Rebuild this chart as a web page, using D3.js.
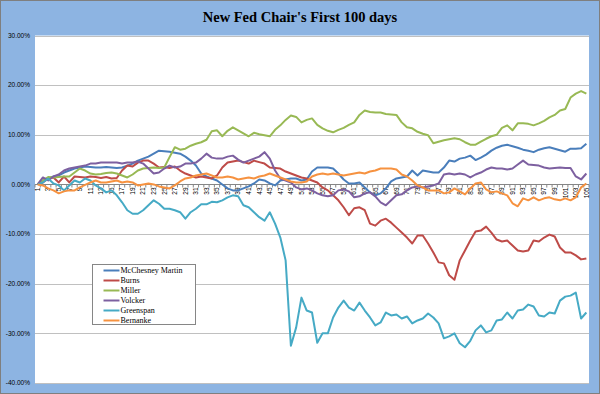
<!DOCTYPE html>
<html>
<head>
<meta charset="utf-8">
<script src="https://d3js.org/d3.v7.min.js"></script>
<style>
  body { margin: 0; background: #fff; }
  svg { display: block; }
  .title { font-family: 'Liberation Serif', 'Times New Roman', serif; font-weight: bold; font-size: 14.5px; fill: #000; }
  .y-label { font-family: 'Liberation Sans', Arial, sans-serif; font-size: 6.5px; fill: #000; }
  .x-axis text { font-family: 'Liberation Sans', Arial, sans-serif; font-size: 6.5px; fill: #000; }
  .legend text { font-family: 'Liberation Serif', 'Times New Roman', serif; font-size: 8px; fill: #000; }
</style>
</head>
<body>
<div id="chart"></div>
<script>
const WIDTH = 600
const HEIGHT = 394
const PLOT = { left: 35, right: 589, top: 35.5, bottom: 383 }

const TITLE = "New Fed Chair's First 100 days"
const SERIES = ['McChesney Martin', 'Burns', 'Miller', 'Volcker', 'Greenspan', 'Bernanke']
const COLORS = ['#4a7ebb', '#be4b48', '#98b954', '#7d60a0', '#46aac5', '#f69240']

// trading days since taking office
const DAYS = d3.range(1, 106)
const DAY_LABELS = DAYS.filter((d) => d % 2 === 1)
const Y_TICKS = [30, 20, 10, 0, -10, -20, -30, -40]

// cumulative % change
const mcchesney_martin = [0,0.8,1.2,1.6,1.8,2.4,2.8,3.2,3.4,3.6, 3.5,3.4,3.4,3.5,3.4,3.3,3.4,3.8,4.2,4.8,
  5.2,5.6,6.2,6.8,6.7,6.6,6.4,6.2,5.6,4.8, 3.8,2.2,1.6,1.2,0.8,0,-0.8,-1.2,-1.2,-0.8,
  -0.4,0.2,1.0,0.8,0.2,-0.2,0.8,1.0,1.2,1.2, 0.8,1.0,2.6,3.4,3.4,3.4,3.2,2.2,1.0,0.2,
  0.2,0.4,-0.6,-1.6,-2.2,-1.8,-0.8,0.6,1.2,1.4, 1.6,2.8,1.8,2.8,2.6,2.4,2.4,3.4,4.8,4.6,
  5.2,5.4,5.8,4.9,5.4,6.0,6.8,7.4,7.8,8.0, 7.7,7.4,7.0,6.8,6.5,7.0,7.3,7.5,7.2,6.9,
  6.6,7.2,7.2,7.3,8.2]
const burns = [0,0.4,1.2,1.4,0.4,1.6,0.4,1.6,1.5,1.4, 1.6,1.5,1.3,1.5,1.2,1.3,2.8,3.8,3.6,4.4,
  4.8,4.8,4.2,3.4,3.5,3.3,3.6,2.8,2.2,1.8, 1.4,1.6,1.4,1.2,1.8,3.4,4.4,4.6,4.8,4.5,
  4.2,4.8,4.5,4.2,3.4,3.3,3.2,2.6,2.2,1.8, 1.4,1.2,0.8,0.4,-0.6,-1.2,-2.2,-3.2,-4.6,-6.2,
  -4.8,-4.6,-5.2,-7.9,-8.3,-7.3,-6.9,-7.7,-8.7,-9.7, -10.7,-11.9,-10.3,-10.3,-11.9,-13.7,-15.7,-15.9,-18.3,-19.2,
  -15.3,-13.3,-11.3,-9.5,-9.3,-8.5,-9.7,-11.1,-11.5,-11.3, -12.3,-13.3,-13.5,-13.3,-11.3,-11.5,-10.7,-10.1,-10.5,-12.7,
  -13.7,-13.7,-14.3,-15.1,-14.9]
const miller = [0,0.8,1.5,1.4,1.5,1.6,1.6,2.4,3.2,2.8, 2.2,2.0,2.1,2.3,2.4,2.2,1.8,1.4,2.0,2.8,
  3.2,3.3,3.4,3.3,3.4,5.5,7.5,7.0,7.2,7.8, 8.2,8.5,9.0,10.7,10.9,9.7,10.8,11.5,10.9,10.3,
  9.7,10.4,10.1,9.9,9.7,11.0,11.9,13.0,13.9,13.6, 12.5,13.0,13.3,12.0,11.3,10.8,10.5,11.0,11.4,12.0,
  12.5,14.0,14.9,14.6,14.5,14.5,14.2,14.1,14.0,12.5, 11.5,11.3,10.6,10.2,9.9,8.3,8.6,8.9,9.1,9.3,
  9.1,8.5,8.0,8.0,8.6,9.2,9.7,10.0,11.4,11.9, 10.9,12.3,12.3,12.2,11.9,12.3,12.8,13.5,14.0,14.9,
  15.2,17.5,18.3,18.8,18.3]
const volcker = [0,1.4,0.8,1.6,2.0,2.8,3.2,3.4,3.6,3.8, 4.2,4.2,4.4,4.4,4.4,4.4,4.2,4.4,4.4,4.6,
  4.2,3.2,2.2,2.4,3.2,3.8,3.4,3.6,4.2,4.2, 4.4,5.2,6.2,5.4,5.2,5.2,5.6,5.8,5.0,4.4,
  4.8,5.2,5.6,6.5,5.2,2.8,1.2,0.8,0.4,-0.6, -1.0,-0.8,-1.2,-1.8,-2.2,-2.4,-2.2,-1.2,-1.0,-1.4,
  -2.6,-2.4,-1.8,-1.6,-2.4,-3.6,-4.2,-3.2,-2.2,-2.0, -1.2,-0.6,-0.4,-0.6,-0.4,-0.2,0.2,2.0,2.2,2.0,
  2.2,2.0,1.4,2.0,2.4,3.0,3.4,3.2,3.2,3.0, 3.2,4.0,4.8,4.0,3.9,3.8,3.4,3.2,3.3,3.4,
  3.3,3.3,1.6,1.0,2.2]
const greenspan = [0,0.4,1.2,0.2,-0.2,-1.2,-0.2,0.8,0.4,1.2, 0.8,-0.2,-0.8,-1.6,-1.2,-2.2,-3.6,-5.2,-5.9,-5.9,
  -5.2,-4.2,-3.2,-3.9,-4.9,-4.9,-5.2,-5.6,-6.9,-5.6, -4.9,-4.0,-4.0,-3.5,-3.6,-3.2,-2.6,-2.2,-2.4,-4.2,
  -4.6,-5.6,-6.6,-7.3,-5.6,-7.9,-10.7,-15.3,-32.5,-28.8, -22.8,-25.4,-25.8,-31.9,-30.0,-30.0,-26.8,-24.8,-23.4,-24.8,
  -25.4,-23.8,-25.4,-26.8,-28.4,-27.8,-25.8,-26.4,-26.2,-27.0, -26.6,-28.0,-27.4,-27.0,-26.0,-26.8,-28.0,-31.0,-30.6,-30.0,
  -32.0,-32.8,-31.5,-29.4,-28.4,-29.8,-29.4,-27.4,-27.2,-25.8, -27.0,-25.4,-25.2,-24.2,-24.6,-26.4,-26.6,-25.8,-26.0,-23.4,
  -22.6,-22.4,-21.8,-27.0,-25.8]
const bernanke = [0,-0.2,-0.8,-1.2,-1.8,-1.4,-1.2,-1.2,-0.6,-0.1, 0.4,0.8,0.4,0.4,0.6,0.8,0.4,0.6,0.4,-0.2,
  0.0,0.2,0.0,-0.4,-0.6,-0.8,-0.2,0.6,1.2,1.4, 1.8,2.0,2.2,1.8,1.4,1.4,1.6,1.4,1.0,1.2,
  1.4,1.2,1.6,1.8,2.2,1.8,1.4,1.0,0.6,0.4, 0.4,0.6,1.6,2.0,2.2,2.0,2.2,2.0,1.8,2.0,
  2.2,2.4,2.2,2.6,2.8,3.2,3.2,3.2,3.0,2.0, 1.6,0.8,-0.2,-0.6,-1.2,-1.2,-1.2,-1.8,-1.6,-0.8,
  -1.4,-2.0,-0.8,0.2,0.4,-1.0,-1.6,-1.4,-1.8,-2.2, -3.8,-4.4,-2.8,-3.2,-2.6,-3.2,-2.8,-2.6,-3.0,-3.2,
  -2.8,-3.2,-2.6,-0.6,0.2]

const VALUES = [mcchesney_martin, burns, miller, volcker, greenspan, bernanke]

let series = SERIES.map((name, i) => ({ name: name, color: COLORS[i], values: VALUES[i] }))

let svg = d3.select('#chart')
  .append('svg')
    .attr('width', WIDTH)
    .attr('height', HEIGHT)

// chart + plot backgrounds

svg.append('rect')
  .attr('x', 0.5)
  .attr('y', 0.5)
  .attr('width', WIDTH - 1)
  .attr('height', HEIGHT - 1)
  .attr('fill', '#8db4e2')
  .attr('stroke', '#7f7f7f')

svg.append('rect')
  .attr('x', PLOT.left)
  .attr('y', PLOT.top)
  .attr('width', PLOT.right - PLOT.left)
  .attr('height', PLOT.bottom - PLOT.top)
  .attr('fill', '#fff')

svg.append('text')
  .attr('class', 'title')
  .attr('x', WIDTH / 2)
  .attr('y', 22)
  .attr('text-anchor', 'middle')
  .text(TITLE)

// scales

let x = d3.scaleBand()
  .domain(DAYS)
  .range([PLOT.left, PLOT.right])

let y = d3.scaleLinear()
  .domain([-40, 30])
  .range([PLOT.bottom, PLOT.top])

let pct = d3.formatLocale({ decimal: '.', thousands: ',', grouping: [3], currency: ['$', ''], minus: '-' }).format('.2%')

// gridlines + y labels

svg.append('g')
    .attr('class', 'grid')
  .selectAll('line')
    .data(Y_TICKS)
  .enter().append('line')
    .attr('x1', PLOT.left)
    .attr('x2', PLOT.right)
    .attr('y1', (d) => Math.round(y(d)) + 0.5)
    .attr('y2', (d) => Math.round(y(d)) + 0.5)
    .attr('stroke', '#c0c0c0')

svg.append('g')
  .selectAll('text')
    .data(Y_TICKS)
  .enter().append('text')
    .attr('class', 'y-label')
    .attr('x', PLOT.left - 5)
    .attr('y', (d) => y(d))
    .attr('dy', '0.35em')
    .attr('text-anchor', 'end')
    .text((d) => pct(d / 100))

// x axis on the zero line

let x_axis = svg.append('g')
  .attr('class', 'x-axis')
  .attr('transform', 'translate(0,' + (Math.round(y(0)) + 0.5) + ')')

x_axis.append('line')
  .attr('x1', PLOT.left)
  .attr('x2', PLOT.right)
  .attr('stroke', '#868686')

x_axis.selectAll('.tick-mark')
    .data(DAYS.concat([null]))
  .enter().append('line')
    .attr('class', 'tick-mark')
    .attr('x1', (d) => d ? x(d) : PLOT.right)
    .attr('x2', (d) => d ? x(d) : PLOT.right)
    .attr('y1', 0)
    .attr('y2', 3)
    .attr('stroke', '#868686')

x_axis.selectAll('text')
    .data(DAY_LABELS)
  .enter().append('text')
    .attr('transform', (d) => 'translate(' + (x(d) + x.bandwidth() / 2) + ',0) rotate(-90)')
    .attr('x', -3)
    .attr('dy', '0.35em')
    .attr('text-anchor', 'end')
    .text((d) => d)

// series

let line = d3.line()
  .x((d, i) => x(DAYS[i]) + x.bandwidth() / 2)
  .y((d) => y(d))

svg.append('g')
    .attr('class', 'series')
  .selectAll('path')
    .data(series)
  .enter().append('path')
    .attr('d', (d) => line(d.values))
    .attr('fill', 'none')
    .attr('stroke', (d) => d.color)
    .attr('stroke-width', 2)
    .attr('stroke-linejoin', 'round')

// legend

let legend = svg.append('g')
  .attr('class', 'legend')
  .attr('transform', 'translate(92.5,264.5)')

legend.append('rect')
  .attr('width', 103)
  .attr('height', 60)
  .attr('fill', '#fff')
  .attr('stroke', '#868686')

let entry = legend.selectAll('.entry')
    .data(series)
  .enter().append('g')
    .attr('class', 'entry')
    .attr('transform', (d, i) => 'translate(0,' + (6 + i * 10) + ')')

entry.append('line')
  .attr('x1', 11)
  .attr('x2', 27)
  .attr('stroke', (d) => d.color)
  .attr('stroke-width', 2)

entry.append('text')
  .attr('x', 28)
  .attr('dy', '0.33em')
  .text((d) => d.name)
</script>
</body>
</html>
